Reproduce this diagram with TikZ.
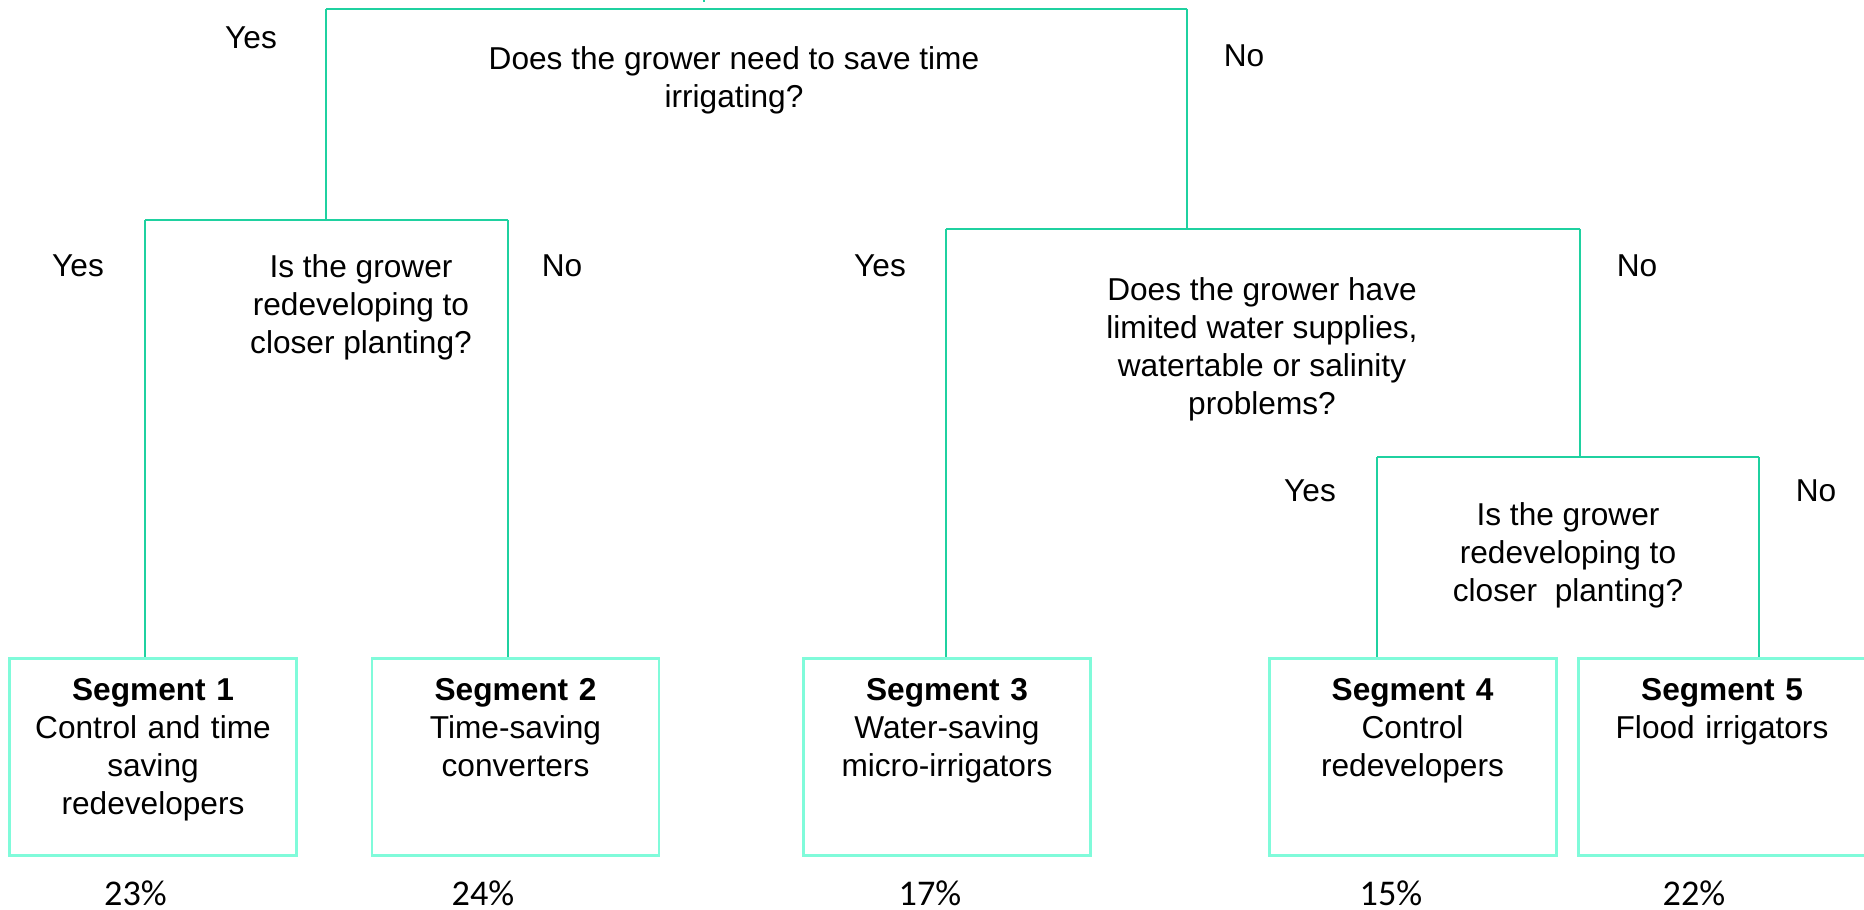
\documentclass[tikz,border=0pt]{standalone}
\usepackage{fontspec}
\setmainfont{Liberation Sans}
\newfontfamily\pctfont{Carlito}
\usetikzlibrary{positioning,calc}
\definecolor{treegreen}{HTML}{1FD1A0}
\definecolor{boxaqua}{HTML}{80FBDA}

\begin{document}
\begin{tikzpicture}[
  branch/.style={draw=treegreen, line width=0.6pt},
  segbox/.style={draw=boxaqua, line width=0.85pt, anchor=north, align=center,
    font=\fontsize{9}{10.8}\selectfont, text width=2.70cm,
    inner xsep=0.085cm, inner ysep=0.19cm, text height=0.23cm, text depth=1.36cm},
  question/.style={align=center, font=\fontsize{9}{10.8}\selectfont},
  answer/.style={font=\fontsize{9}{10.8}\selectfont},
  share/.style={font=\pctfont\fontsize{10.3}{12}\selectfont},
]
\useasboundingbox (0,0) rectangle (18.64,-9.10);

% ---------- segments (boxes along the bottom) ----------
\foreach \name/\x/\body in {%
  {seg1}/1.53/{{\bfseries Segment 1}\\Control and time\\saving\\redevelopers},
  {seg2}/5.155/{{\bfseries Segment 2}\\Time-saving\\converters},
  {seg3}/9.47/{{\bfseries Segment 3}\\Water-saving\\micro-irrigators},
  {seg4}/14.125/{{\bfseries Segment 4}\\Control\\redevelopers},
  {seg5}/17.22/{{\bfseries Segment 5}\\Flood irrigators}%
} {
  \node[segbox] (\name) at (\x,-6.57) {\body};
}
% shares below the boxes
\foreach \name/\x/\pct in {pc1/1.355/23, pc2/4.83/24, pc3/9.30/17, pc4/13.91/15, pc5/16.94/22} {
  \node[share] (\name) at (\x,-8.93) {\pct\%};
}

% ---------- questions ----------
\node[question] (q1) at (7.34,-0.80) {Does the grower need to save time\\irrigating?};
\node[question] (q2) at (3.61,-3.07) {Is the grower\\redeveloping to\\closer planting?};
\node[question] (q3) at (12.62,-3.49) {Does the grower have\\limited water supplies,\\watertable or salinity\\problems?};
\node[question] (q4) at (15.68,-5.55) {Is the grower\\redeveloping to\\closer\ \ planting?};

% ---------- yes / no labels ----------
\foreach \name/\x/\y/\lbl in {%
  y1/2.51/0.38/Yes, n1/12.44/0.56/No,
  y2/0.78/2.66/Yes, n2/5.62/2.66/No,
  y3/8.80/2.66/Yes, n3/16.37/2.66/No,
  y4/13.10/4.91/Yes, n4/18.16/4.91/No%
} {
  \node[answer] (\name) at (\x,-\y) {\lbl};
}

% ---------- branch lines ----------
\coordinate (stem) at (7.04,0);
\coordinate (a1) at (3.26,-0.09);
\coordinate (a2) at (11.87,-0.09);
\coordinate (b1) at (1.45,-2.20);
\coordinate (b2) at (5.08,-2.20);
\coordinate (c1) at (9.46,-2.29);
\coordinate (c2) at (15.80,-2.29);
\coordinate (d1) at (13.77,-4.57);
\coordinate (d2) at (17.59,-4.57);

\draw[branch] (stem) -- ++(0,-0.02);
\draw[branch] (a1) -- (a2);
\draw[branch] (a1) -- (a1 |- b1);
\draw[branch] (a2) -- (a2 |- c1);
% left subtree
\draw[branch] (b1) -- (b2);
\draw[branch] (b1) -- (b1 |- seg1.north);
\draw[branch] (b2) -- (b2 |- seg2.north);
% right subtree
\draw[branch] (c1) -- (c2);
\draw[branch] (c1) -- (c1 |- seg3.north);
\draw[branch] (c2) -- (c2 |- d1);
\draw[branch] (d1) -- (d2);
\draw[branch] (d1) -- (d1 |- seg4.north);
\draw[branch] (d2) -- (d2 |- seg5.north);
\end{tikzpicture}
\end{document}
